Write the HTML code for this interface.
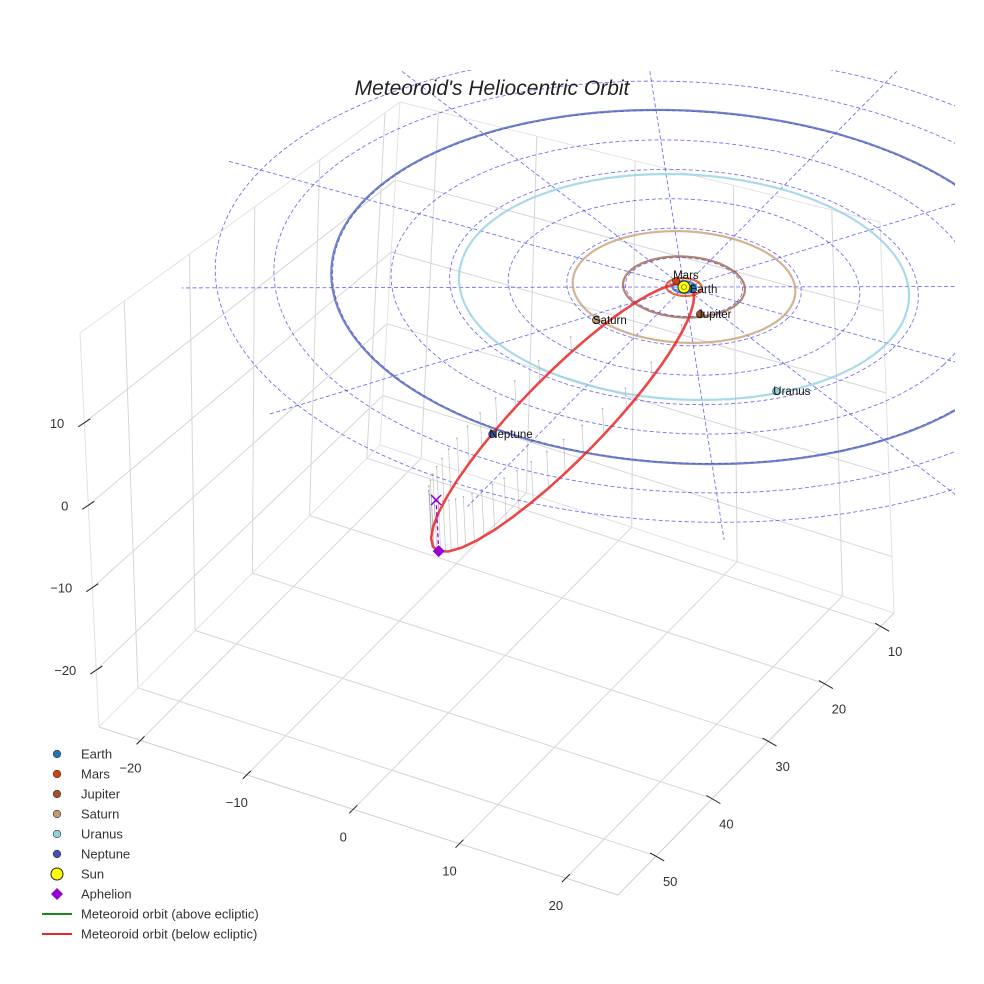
<!DOCTYPE html>
<html><head><meta charset="utf-8">
<style>
html,body{margin:0;padding:0;background:#fff;}
svg{display:block;font-family:"Liberation Sans",sans-serif;}
</style></head>
<body>
<svg id="chart" width="984" height="984" viewBox="0 0 984 984" xmlns="http://www.w3.org/2000/svg">
<defs><clipPath id="clipAx"><rect x="0" y="70" width="955" height="914"/></clipPath></defs>
<g id="box"></g>
<g id="plane" clip-path="url(#clipAx)"></g>
<g id="content"></g>
<text x="492" y="95" text-anchor="middle" font-size="21" font-style="italic" fill="#222">Meteoroid's Heliocentric Orbit</text>
<g id="legend"></g>
</svg>
<script>
// ---- axis data ----
const xTicks = [-20, -10, 0, 10, 20];
const yTicks = [10, 20, 30, 40, 50];
const zTicks = [-20, -10, 0, 10];
const xRange = [-23.9, 24.9];
const yRange = [7.7, 56.8];
const zRange = [-26.9, 20.9];
// ---- planet data (AU, ecliptic frame) ----
const planetNames = ["Earth", "Mars", "Jupiter", "Saturn", "Uranus", "Neptune"];
const planetX = [0.8, -1.05, 3.3, -3.8, 14.9, -2.4];
const planetY = [-0.1, -0.55, 3.4, 9.0, 11.6, 30.9];
const orbitRadii = [1.0, 1.52, 5.2, 9.5, 19.2, 30.1];
const planetColors = ["#1f77b4", "#d2400f", "#a0522d", "#c49a6c", "#8fcfe0", "#3f51b5"];
const orbitColors = ["rgba(30,110,200,0.8)", "rgba(220,70,20,0.8)", "rgba(150,80,50,0.7)", "rgba(200,160,120,0.8)", "rgba(140,205,225,0.75)", "rgba(70,90,180,0.75)"];
// ---- reference grid ----
const ringRadii = [5, 10, 15, 20, 25, 30, 35, 40];
const spokeAngles = [-32, -2, 28, 58, 88, 118, 148, 178, 208, 238, 268, 298];
// ---- meteoroid orbit ----
const aphelion = [-1.3, 43.4, -6.4];
const perihelionDist = [0.42];
const stemCount = [36];

const NS = "http://www.w3.org/2000/svg";
function mk(tag, attrs, parent){const e=document.createElementNS(NS,tag);for(const k in attrs)e.setAttribute(k,attrs[k]);parent.appendChild(e);return e;}

const C = {"000":[380,445],"010":[99,727],"100":[894,613],"110":[618,895],
           "001":[400,102],"011":[80,333],"101":[880,222],"111":[600,502]};
function A(X,Y,Z){
  const s=(X-xRange[0])/(xRange[1]-xRange[0]);
  const t=(Y-yRange[0])/(yRange[1]-yRange[0]);
  const w=(Z-zRange[0])/(zRange[1]-zRange[0]);
  let px=0,py=0;
  for(const a of [0,1])for(const b of [0,1])for(const c of [0,1]){
    const f=(a?s:1-s)*(b?t:1-t)*(c?w:1-w);const p=C[""+a+b+c];px+=f*p[0];py+=f*p[1];}
  return [px,py];
}
function B(X,Y,Z){return [684+X*10.4-Y*5.4-Z*0.4, 287+X*3.1+Y*5.0-Z*8];}

const box=document.getElementById('box');
function gl(p,q,stroke,w,parent,name){
  const l=mk('line',{x1:p[0].toFixed(1),y1:p[1].toFixed(1),x2:q[0].toFixed(1),y2:q[1].toFixed(1),stroke:stroke,'stroke-width':w},parent);
  
  
  return l;
}
const GC="#d6d6d6";
const [x0,x1]=xRange,[y0,y1]=yRange,[z0,z1]=zRange;
xTicks.forEach(X=>gl(A(X,y0,z0),A(X,y1,z0),GC,1,box,'floor-gridline-x'));
yTicks.forEach(Y=>gl(A(x0,Y,z0),A(x1,Y,z0),GC,1,box,'floor-gridline-y'));
yTicks.forEach(Y=>gl(A(x0,Y,z0),A(x0,Y,z1),GC,1,box,'left-wall-gridline-y'));
zTicks.forEach(Z=>gl(A(x0,y0,Z),A(x0,y1,Z),GC,1,box,'left-wall-gridline-z'));
xTicks.forEach(X=>gl(A(X,y0,z0),A(X,y0,z1),GC,1,box,'back-wall-gridline-x'));
zTicks.forEach(Z=>gl(A(x0,y0,Z),A(x1,y0,Z),GC,1,box,'back-wall-gridline-z'));
const EC="#e2e2e2";
[[A(x0,y1,z0),A(x0,y1,z1)],[A(x0,y1,z1),A(x0,y0,z1)],[A(x0,y0,z1),A(x1,y0,z1)],[A(x1,y0,z1),A(x1,y0,z0)],
 [A(x0,y0,z0),A(x0,y0,z1)],[A(x0,y0,z0),A(x0,y1,z0)],[A(x0,y0,z0),A(x1,y0,z0)]].forEach(e=>gl(e[0],e[1],EC,1,box,'pane-edge'));
[[A(x0,y1,z0),A(x1,y1,z0)],[A(x1,y1,z0),A(x1,y0,z0)]].forEach(e=>gl(e[0],e[1],"#cfcfcf",1,box,'axis-line'));
function lab(txt,x,y,anchor,name){
  const t=mk('text',{x:x.toFixed(1),y:y.toFixed(1),'text-anchor':anchor,'font-size':13,fill:'#333'},box);
  t.textContent=txt;
  
  
}
xTicks.forEach(X=>{const p=A(X,y1,z0);gl([p[0]+4,p[1]-4],[p[0]-4,p[1]+4],"#222",1,box,'x-tick');lab(String(X).replace('-','\u2212'),p[0]-10,p[1]+32,'middle','x-tick-label');});
yTicks.forEach(Y=>{const p=A(x1,Y,z0);gl([p[0]-6,p[1]-3],[p[0]+8,p[1]+5],"#222",1,box,'y-tick');lab(String(Y),p[0]+14,p[1]+30,'middle','y-tick-label');});
zTicks.forEach(Z=>{const p=A(x0,y1,Z);gl([p[0]-6,p[1]+4],[p[0]+6,p[1]-4],"#222",1,box,'z-tick');lab(String(Z).replace('-','\u2212'),p[0]-20,p[1]+5,'end','z-tick-label');});

const plane=document.getElementById('plane');
function pathFrom(pts){return pts.map((p,i)=>(i?'L':'M')+p[0].toFixed(1)+' '+p[1].toFixed(1)).join(' ');}
function circlePts(R,n){const pts=[];for(let i=0;i<=n;i++){const a=2*Math.PI*i/n;pts.push(B(R*Math.cos(a),R*Math.sin(a),0));}return pts;}
ringRadii.forEach(R=>{
  const p=mk('path',{d:pathFrom(circlePts(R,180)),fill:'none',stroke:'rgba(40,40,230,0.65)','stroke-width':0.9,'stroke-dasharray':'4 2.5'},plane);
  
  
});
spokeAngles.forEach(d=>{
  const a=d*Math.PI/180;
  const p=mk('path',{d:pathFrom([B(0,0,0),B(43*Math.cos(a),43*Math.sin(a),0)]),fill:'none',stroke:'rgba(40,40,230,0.65)','stroke-width':0.9,'stroke-dasharray':'4 2.5'},plane);
  
  
});
orbitRadii.forEach((R,i)=>{
  const p=mk('path',{d:pathFrom(circlePts(R,240)),fill:'none',stroke:orbitColors[i],'stroke-width':2.2},plane);
  
  
});

const content=document.getElementById('content');
const Q=Math.hypot(aphelion[0],aphelion[1],aphelion[2]), q=perihelionDist[0];
const u=aphelion.map(c=>c/Q);
let v=[-u[1],u[0],0];const vl=Math.hypot(v[0],v[1]);v=v.map(c=>c/vl);
const aS=(q+Q)/2,e=(Q-q)/(Q+q);
function posAt(th){const r=aS*(1-e*e)/(1+e*Math.cos(th));return [0,1,2].map(k=>r*(-Math.cos(th)*u[k]+Math.sin(th)*v[k]));}
const orb=[];
for(let i=0;i<=360;i++) orb.push(posAt(2*Math.PI*i/360));
for(let i=0;i<stemCount[0];i++){
  const M=2*Math.PI*(i+0.5)/stemCount[0];
  let E=M;for(let k=0;k<30;k++)E=E-(E-e*Math.sin(E)-M)/(1-e*Math.cos(E));
  const th=2*Math.atan2(Math.sqrt(1+e)*Math.sin(E/2),Math.sqrt(1-e)*Math.cos(E/2));
  const o=posAt(th);if(Math.abs(o[2])<0.4)continue;
  const p=B(o[0],o[1],o[2]),t=B(o[0],o[1],0);
  gl(p,t,'rgba(150,150,150,0.55)',0.7,content,'stem-line');
  const c=mk('circle',{cx:t[0].toFixed(1),cy:t[1].toFixed(1),r:0.9,fill:'rgba(150,150,150,0.7)'},content);
  
  
}
let seg=[],sign=null;
function flush(){if(seg.length>1){const p=mk('path',{d:pathFrom(seg),fill:'none',stroke:sign>0?'rgba(20,130,20,0.85)':'rgba(232,30,30,0.82)','stroke-width':2.6,'stroke-linejoin':'round'},content);
  
  }}
orb.forEach(o=>{const s=o[2]>=0?1:-1;const p=B(o[0],o[1],o[2]);if(sign!==null&&s!==sign){seg.push(p);flush();seg=[p];}else seg.push(p);sign=s;});
flush();
const ap=B(aphelion[0],aphelion[1],aphelion[2]),apP=B(aphelion[0],aphelion[1],0);
const dl=gl(ap,apP,'#9400d3',1.3,content,'aphelion-drop-line');dl.setAttribute('stroke-dasharray','4 3');
const xm=mk('path',{d:`M${apP[0]-5} ${apP[1]-5}L${apP[0]+5} ${apP[1]+5}M${apP[0]-5} ${apP[1]+5}L${apP[0]+5} ${apP[1]-5}`,stroke:'#9400d3','stroke-width':1.5},content);


const dm=mk('path',{d:`M${ap[0]} ${ap[1]-6}L${ap[0]+6} ${ap[1]}L${ap[0]} ${ap[1]+6}L${ap[0]-6} ${ap[1]}Z`,fill:'#9400d3'},content);



const sp=B(0,0,0);
const sun=mk('circle',{cx:sp[0],cy:sp[1],r:6,fill:'#ffff00',stroke:'#222','stroke-width':1},content);


const sun2=mk('circle',{cx:sp[0],cy:sp[1],r:2.5,fill:'none',stroke:'#555','stroke-width':0.6},content);


planetNames.forEach((n,i)=>{
  const p=B(planetX[i],planetY[i],0);
  const c=mk('circle',{cx:p[0].toFixed(1),cy:p[1].toFixed(1),r:3.6,fill:planetColors[i],stroke:'#222','stroke-width':0.6},content);
  
  
  const dy = n==="Mars" ? -2 : 4;
  const t=mk('text',{x:(p[0]-3).toFixed(1),y:(p[1]+dy).toFixed(1),'font-size':11.5,fill:'#111'},content);
  t.textContent=n;
  
  
});

const legend=document.getElementById('legend');
const legendLabels=["Earth","Mars","Jupiter","Saturn","Uranus","Neptune","Sun","Aphelion","Meteoroid orbit (above ecliptic)","Meteoroid orbit (below ecliptic)"];
legendLabels.forEach((L,i)=>{
  const y=754+i*20;
  const g=mk('g',{},legend);
  
  
  if(i<6){const c=mk('circle',{cx:57,cy:y,r:3.8,fill:planetColors[i],stroke:'#333','stroke-width':0.6},g);
    
    }
  else if(i===6){const c=mk('circle',{cx:57,cy:y,r:6,fill:'#ffff00',stroke:'#222','stroke-width':1},g);
    
    }
  else if(i===7){const c=mk('path',{d:`M57 ${y-6}L63 ${y}L57 ${y+6}L51 ${y}Z`,fill:'#9400d3'},g);
    
    }
  else {const c=mk('line',{x1:42,y1:y,x2:72,y2:y,stroke:i===8?'#1a8a1a':'#e82828','stroke-width':2},g);
    
    }
  const t=mk('text',{x:81,y:y+4.5,'font-size':13,fill:'#333'},g);
  t.textContent=L;
  
  
});
</script>
</body></html>
